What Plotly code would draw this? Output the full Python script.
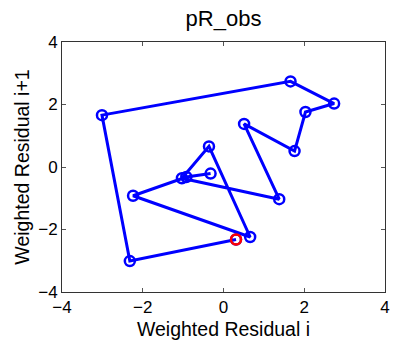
import plotly.graph_objects as go

# Weighted residual series; the lag plot pairs r[i] with r[i+1]
residuals = [0.31, -2.32, -3.01, 1.66, 2.74, 2.03, 1.76, 0.51, 1.38,
             -1.03, -0.36, 0.66, -2.24, -0.92, -0.32, -0.21]
axis_ticks = [-4, -2, 0, 2, 4]

x_lag = residuals[:-1]
y_lag = residuals[1:]

fig = go.Figure()
fig.add_trace(go.Scatter(
    x=x_lag, y=y_lag, mode="lines+markers",
    line=dict(color="#0000ff", width=3),
    marker=dict(symbol="circle-open", size=10, color="#0000ff",
                line=dict(width=2.5, color="#0000ff")),
    showlegend=False,
))
# first pair highlighted
fig.add_trace(go.Scatter(
    x=[x_lag[0]], y=[y_lag[0]], mode="markers",
    marker=dict(symbol="circle-open", size=10, color="#ff0000",
                line=dict(width=2.5, color="#ff0000")),
    showlegend=False,
))

font_family = "Liberation Sans, Arial, sans-serif"
axis_common = dict(
    range=[-4, 4], tickvals=axis_ticks, ticks="inside", ticklen=4,
    tickcolor="#555555", showline=True, linecolor="#333333", linewidth=1,
    mirror="ticks", showgrid=False, zeroline=False,
    tickfont=dict(size=17, color="#000000", family=font_family),
)

fig.update_layout(
    width=396, height=347,
    margin=dict(l=62, r=6, t=42, b=55),
    paper_bgcolor="white", plot_bgcolor="white",
    title=dict(text="pR_obs", x=0.5, xanchor="center", y=0.948, yanchor="middle",
               xref="paper",
               font=dict(size=22, color="#000000", family=font_family)),
    xaxis=dict(**axis_common,
               title=dict(text="Weighted Residual i", standoff=5,
                          font=dict(size=19.5, color="#000000", family=font_family))),
    yaxis=dict(**axis_common,
               title=dict(text="Weighted Residual i+1", standoff=3,
                          font=dict(size=19.5, color="#000000", family=font_family))),
)

fig.write_html("out.html")
